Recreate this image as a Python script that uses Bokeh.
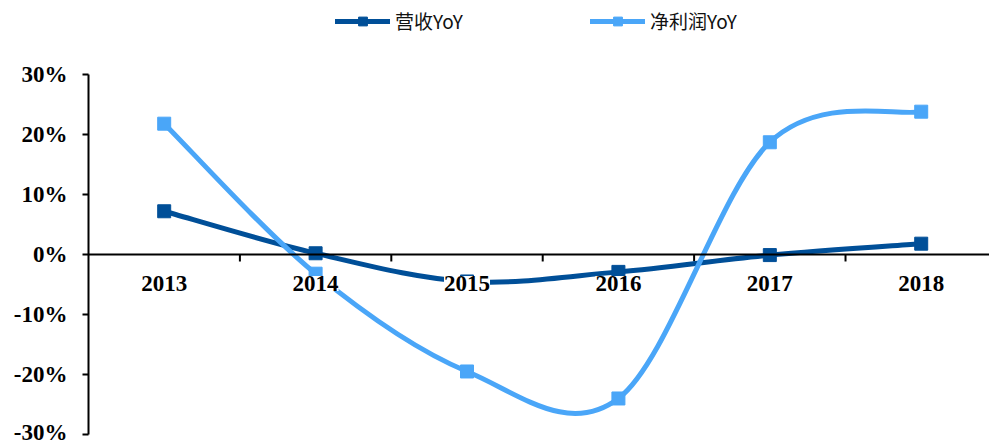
import math
from bokeh.plotting import figure
from bokeh.models import Range1d, FixedTicker, PrintfTickFormatter, Legend, LegendItem, ColumnDataSource, Span
from bokeh.core.properties import value
from bokeh.embed import file_html
from bokeh.resources import INLINE

# ---- data ----
years = ["2013", "2014", "2015", "2016", "2017", "2018"]
revenue_yoy = [7.2, 0.2, -4.5, -2.9, -0.1, 1.8]      # 营收YoY (%)
profit_yoy = [21.8, -3.2, -19.5, -24.0, 18.7, 23.8]  # 净利润YoY (%)
y_ticks = [-30, -20, -10, 0, 10, 20, 30]
series_names = ["营收YoY", "净利润YoY"]

DARK = "#004F98"
LIGHT = "#4AA6F8"

xs = list(range(len(years)))
boundaries = [i + 0.5 for i in range(len(years) - 1)]


def smooth_segments(x, y):
    """Cubic Bezier control points (Catmull-Rom style) for a smoothed line."""
    n = len(x)
    d = dict(x0=[], y0=[], x1=[], y1=[], cx0=[], cy0=[], cx1=[], cy1=[])
    for i in range(n - 1):
        ip = max(i - 1, 0)
        inx = min(i + 2, n - 1)
        d["x0"].append(x[i]); d["y0"].append(y[i])
        d["x1"].append(x[i + 1]); d["y1"].append(y[i + 1])
        d["cx0"].append(x[i] + (x[i + 1] - x[ip]) / 6.0)
        d["cy0"].append(y[i] + (y[i + 1] - y[ip]) / 6.0)
        d["cx1"].append(x[i + 1] - (x[inx] - x[i]) / 6.0)
        d["cy1"].append(y[i + 1] - (y[inx] - y[i]) / 6.0)
    return ColumnDataSource(d)


p = figure(width=989, height=444, output_backend="svg", toolbar_location=None,
           x_range=Range1d(-0.5, 5.451), y_range=Range1d(-31.67, 42.33),
           x_axis_location=None,
           min_border_left=88, min_border_right=0, min_border_top=0, min_border_bottom=0)
p.outline_line_color = None
p.xgrid.visible = False
p.ygrid.visible = False
p.background_fill_color = "white"
p.border_fill_color = "white"

# y axis
ya = p.yaxis[0]
ya.ticker = FixedTicker(ticks=y_ticks)
ya.formatter = PrintfTickFormatter(format="%d%%")
ya.bounds = (-30, 30)
ya.axis_line_width = 2
ya.axis_line_color = "black"
ya.major_tick_line_width = 2
ya.major_tick_line_color = "black"
ya.major_tick_out = 6
ya.major_tick_in = 0
ya.minor_tick_line_color = None
ya.major_label_text_font = "Liberation Serif"
ya.major_label_text_font_style = "bold"
ya.major_label_text_font_size = "23px"
ya.major_label_text_color = "black"
ya.major_label_standoff = 15

# horizontal zero line with category-boundary ticks
p.add_layout(Span(location=0, dimension="width", line_color="black", line_width=2))
p.ray(x=boundaries, y=[0] * len(boundaries), length=7, length_units="screen",
      angle=-math.pi / 2, line_color="black", line_width=2)

# series
src_r = smooth_segments(xs, revenue_yoy)
src_p = smooth_segments(xs, profit_yoy)

r1 = p.bezier(x0="x0", y0="y0", x1="x1", y1="y1", cx0="cx0", cy0="cy0", cx1="cx1", cy1="cy1",
              source=src_r, line_color=DARK, line_width=5, line_cap="round")
m1 = p.scatter(xs, revenue_yoy, marker="square", size=13, fill_color=DARK, line_color=DARK)
r2 = p.bezier(x0="x0", y0="y0", x1="x1", y1="y1", cx0="cx0", cy0="cy0", cx1="cx1", cy1="cy1",
              source=src_p, line_color=LIGHT, line_width=5, line_cap="round")
m2 = p.scatter(xs, profit_yoy, marker="square", size=13, fill_color=LIGHT, line_color=LIGHT)

# category labels below the zero line
p.text(x=xs, y=[0] * len(xs), text=years, y_offset=29,
       text_align="center", text_baseline="middle",
       text_font=value("Liberation Serif"), text_font_style="bold",
       text_font_size="23px", text_color="black",
       background_fill_color="white")

legend = Legend(items=[LegendItem(label=series_names[0], renderers=[r1, m1]),
                       LegendItem(label=series_names[1], renderers=[r2, m2])],
                orientation="horizontal", location=(247, 410),
                glyph_width=55, glyph_height=22, label_height=22, label_width=150,
                label_standoff=5, spacing=45, padding=0, margin=0,
                border_line_color=None, background_fill_alpha=0,
                label_text_font="Noto Sans CJK SC", label_text_font_size="19px",
                label_text_color="#111111")
p.add_layout(legend)

open("out.html", "w").write(file_html(p, INLINE))
